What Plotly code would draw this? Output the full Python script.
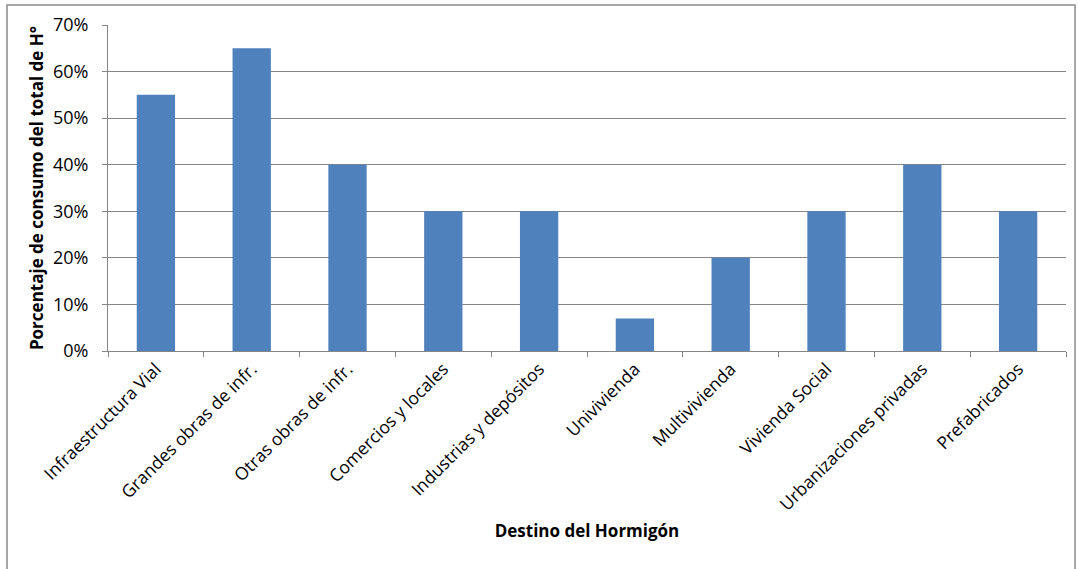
import plotly.graph_objects as go

categorias = [
    "Infraestructura Vial",
    "Grandes obras de infr.",
    "Otras obras de infr.",
    "Comercios y locales",
    "Industrias y depósitos",
    "Univivienda",
    "Multivivienda",
    "Vivienda Social",
    "Urbanizaciones privadas",
    "Prefabricados",
]
porcentajes = [0.55, 0.65, 0.40, 0.30, 0.30, 0.07, 0.20, 0.30, 0.40, 0.30]
y_ticks = [0, 0.1, 0.2, 0.3, 0.4, 0.5, 0.6, 0.7]

W, H = 1078, 569
L, R, T, B = 108, 12, 25, 218
pw, ph = W - L - R, H - T - B

fig = go.Figure(
    go.Bar(
        x=categorias,
        y=porcentajes,
        marker=dict(color="#4F81BD", line=dict(width=0)),
        hoverinfo="skip",
    )
)

font_fam = "Open Sans, Liberation Sans, sans-serif"

fig.update_layout(
    width=W,
    height=H,
    margin=dict(l=L, r=R, t=T, b=B),
    paper_bgcolor="white",
    plot_bgcolor="white",
    bargap=0.6,
    showlegend=False,
    font=dict(family=font_fam, color="black", size=16),
    xaxis=dict(
        tickangle=-45,
        tickson="boundaries",
        ticks="outside",
        ticklen=5,
        tickcolor="#868686",
        showline=True,
        linecolor="#868686",
        linewidth=1,
        showgrid=False,
        tickfont=dict(size=17.5),
        title=dict(
            text="<b>Destino del Hormigón</b>",
            font=dict(size=17),
            standoff=10,
        ),
    ),
    yaxis=dict(
        range=[0, 0.7],
        tickvals=y_ticks,
        tickformat=".0%",
        ticks="outside",
        ticklen=5,
        tickcolor="#868686",
        showline=True,
        linecolor="#868686",
        linewidth=1,
        showgrid=True,
        gridcolor="#868686",
        gridwidth=1,
        zeroline=False,
        tickfont=dict(size=18),
        ticklabelstandoff=10,
        title=dict(
            text="<b>Porcentaje de consumo del total de H°</b>",
            font=dict(size=17),
            standoff=4,
        ),
    ),
    shapes=[
        dict(
            type="rect",
            xref="paper",
            yref="paper",
            x0=(7 - L) / pw,
            x1=(1075 - L) / pw,
            y0=(H - B - 575) / ph,
            y1=(H - B - 5) / ph,
            line=dict(color="#8c8c8c", width=1.5),
            fillcolor="rgba(0,0,0,0)",
            layer="below",
        )
    ],
)

fig.write_html("out.html")
